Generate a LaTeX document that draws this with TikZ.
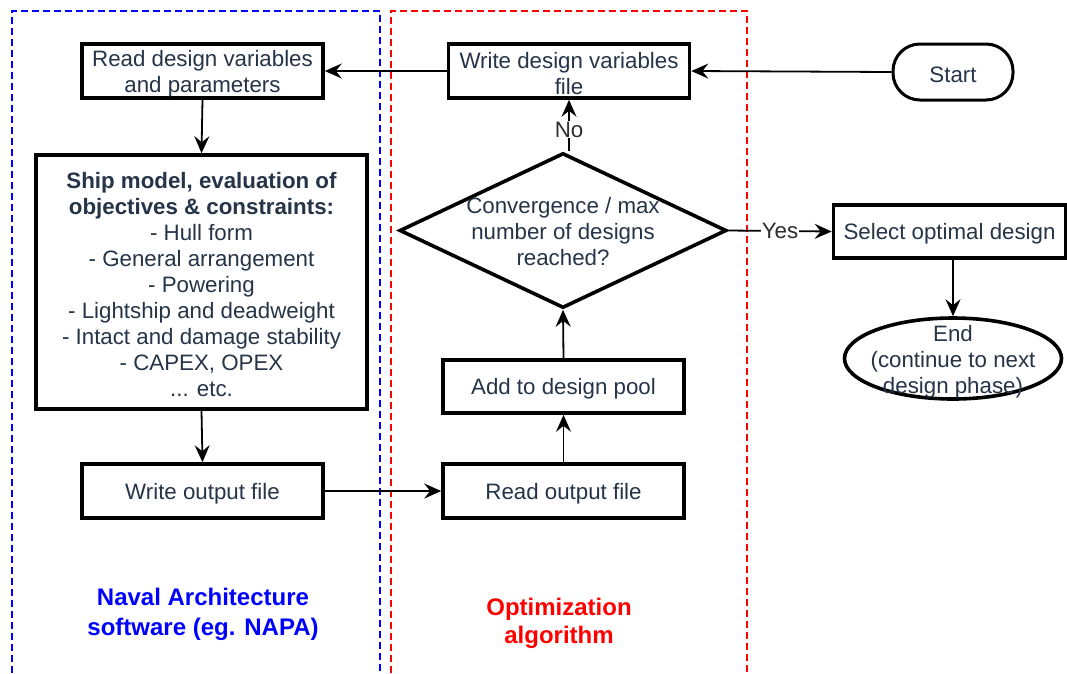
\documentclass[tikz,border=0pt]{standalone}
\usepackage{fontspec}
\setmainfont{Liberation Sans}
\usetikzlibrary{shapes.geometric,arrows.meta}
\definecolor{txt}{RGB}{38,52,72}
\definecolor{lbl}{RGB}{45,45,45}
\definecolor{laneblue}{RGB}{0,0,255}
\definecolor{lanered}{RGB}{255,0,0}
% taller first line, sets the text a little lower inside its box
\newcommand\toppad{\rule{0pt}{21pt}}

\begin{document}
\begin{tikzpicture}[x=1pt,y=-1pt,
  every node/.style={font=\fontsize{22.3}{26}\selectfont, text=txt, align=center},
  box/.style={draw=black, line width=3.6pt, fill=white, rectangle, inner sep=0pt},
  conn/.style={line width=1.8pt, -{Stealth[length=17pt,width=15pt,inset=6pt]}},
  lane/.style={line width=1.5pt, dash pattern=on 7pt off 4pt},
  lanelabel/.style={font=\fontsize{24}{30}\selectfont\bfseries},
  tag/.style={fill=white, inner sep=1pt, text=lbl}
]
\useasboundingbox (0,0) rectangle (1067,673);
\fill[white] (0,0) rectangle (1067,673);

% swim lanes (open at the bottom)
\draw[lane, laneblue] (12,673) -- (12,11) -- (380,11) -- (380,673);
\draw[lane, lanered] (391,673) -- (391,11) -- (747,11) -- (747,673);

% process steps
\node[box, minimum width=241pt, minimum height=54pt] (rdv) at (202.5,71) {\toppad Read design variables\\and parameters};
\node[box, minimum width=241pt, minimum height=54pt] (wdv) at (569,71) {\toppad Write design variables\\file};
\node[draw=black, fill=white, line width=3pt, rounded corners=27pt, minimum width=120pt, minimum height=56pt, inner sep=0pt] (start) at (953,72) {\toppad Start};
\node[box, minimum width=331pt, minimum height=254pt] (ship) at (201.5,282)
  {\toppad\textbf{Ship model, evaluation of}\\\textbf{objectives \& constraints:}\\- Hull form\\- General arrangement\\- Powering\\- Lightship and deadweight\\- Intact and damage stability\\- CAPEX, OPEX\\... etc.};
\node[box, minimum width=241pt, minimum height=54pt] (wout) at (202.5,491) {\toppad Write output file};
\node[box, minimum width=241pt, minimum height=54pt] (rout) at (563.5,491) {\toppad Read output file};
\node[box, minimum width=241pt, minimum height=53pt] (pool) at (563.5,386.5) {\toppad Add to design pool};
\node[draw=black, fill=white, line width=3.6pt, diamond, minimum width=327pt, minimum height=155pt, inner sep=0pt] (dia) at (563,230.5) {};
\node[yshift=-1pt] (diatext) at (dia.center) {Convergence / max\\number of designs\\reached?};
\node[box, minimum width=232pt, minimum height=53pt] (sel) at (949.5,231.5) {\toppad Select optimal design};
\node[draw=black, fill=white, line width=3.6pt, ellipse, minimum width=217pt, minimum height=81pt, inner sep=0pt] (end) at (953,358.5) {};
\node[yshift=-3pt] (endtext) at (end.center) {End\\(continue to next\\design phase)};

% connectors
\draw[conn] (start.west) -- (wdv.east);
\draw[conn] (wdv.west) -- (rdv.east);
\draw[conn] (rdv.south) -- (ship.north);
\draw[conn] (ship.south) -- (wout.north);
\draw[conn] (wout.east) -- (rout.west);
\draw[conn] (rout.north) -- (pool.south);
\draw[conn] (pool.north) -- (dia.south);
\draw[conn] (dia.north -| wdv.south) -- node[tag, pos=0.42] (no) {No} (wdv.south);
\draw[conn] (dia.east) -- node[tag] (yes) {Yes} (sel.west);
\draw[conn] (sel.south -| end.north) -- (end.north);

% lane titles
\node[lanelabel, text=laneblue] (napa) at (203,614) {Naval Architecture\\software (eg. NAPA)};
\node[lanelabel, text=lanered, font=\fontsize{24}{28}\selectfont\bfseries] (opt) at (559,623) {Optimization\\algorithm};
\end{tikzpicture}
\end{document}
